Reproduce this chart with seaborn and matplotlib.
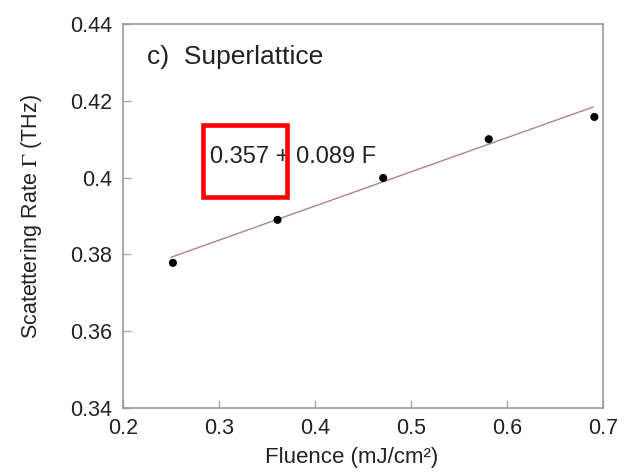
import matplotlib
matplotlib.use("Agg")
import matplotlib.pyplot as plt
from matplotlib.patches import Rectangle
import numpy as np
import pandas as pd
import seaborn as sns

fluence = [0.252, 0.361, 0.471, 0.581, 0.691]
rate = [0.3778, 0.3890, 0.3999, 0.4100, 0.4158]
fit_intercept = 0.357
fit_slope = 0.089
fit_x = [0.25, 0.69]
xticks = [0.2, 0.3, 0.4, 0.5, 0.6, 0.7]
yticks = [0.34, 0.36, 0.38, 0.40, 0.42, 0.44]
ytick_labels = ["0.34", "0.36", "0.38", "0.4", "0.42", "0.44"]

sns.set_theme(style="white")
plt.rcParams["font.family"] = ["Liberation Sans", "DejaVu Sans"]
plt.rcParams["mathtext.fontset"] = "stix"

fig = plt.figure(figsize=(6.31, 4.73), dpi=100)
ax = fig.add_axes([123/631, 1 - 408/473, 480/631, 384/473])

df = pd.DataFrame({"F": fluence, "G": rate})
fit_df = pd.DataFrame({"F": fit_x, "G": [fit_intercept + fit_slope * v for v in fit_x]})

sns.lineplot(data=fit_df, x="F", y="G", ax=ax, color="#b08484", linewidth=1.0)
sns.scatterplot(data=df, x="F", y="G", ax=ax, color="black", s=34, edgecolor="none", zorder=3)

ax.set_xlim(0.2, 0.7)
ax.set_ylim(0.34, 0.44)
ax.set_xticks(xticks)
ax.set_xticklabels([f"{v:g}" for v in xticks])
ax.set_yticks(yticks)
ax.set_yticklabels(ytick_labels)
ax.tick_params(axis="both", which="major", direction="in", length=6, width=1,
               color="#aaaaaa", labelsize=15.5, labelcolor="#222222",
               bottom=True, left=True, top=False, right=False)
ax.tick_params(axis="y", pad=8)
ax.tick_params(axis="x", pad=7)
for s in ax.spines.values():
    s.set_color("#999999")
    s.set_linewidth(1.2)

ax.set_xlabel("Fluence (mJ/cm²)", fontsize=16, color="#222222")
ax.set_ylabel(r"Scatettering Rate $\Gamma$ (THz)", fontsize=15.5, color="#222222")
ax.xaxis.set_label_coords(0.477, -0.13)
ax.xaxis.label.set_va("center")
ax.yaxis.set_label_coords(-0.19, 0.5)
ax.yaxis.label.set_va("center")

ax.text(0.05, 0.914, "c)  Superlattice", transform=ax.transAxes, fontsize=19,
        color="#222222", va="center", ha="left")
ax.text(0.181, 0.654, "0.357 + 0.089 F", transform=ax.transAxes, fontsize=17,
        color="#222222", va="center", ha="left")
ax.add_patch(Rectangle((0.1667, 0.549), 0.175, 0.1875, transform=ax.transAxes,
                       fill=False, edgecolor="#ff0000", linewidth=3.3, zorder=4))

fig.savefig("out.png", dpi=100)
